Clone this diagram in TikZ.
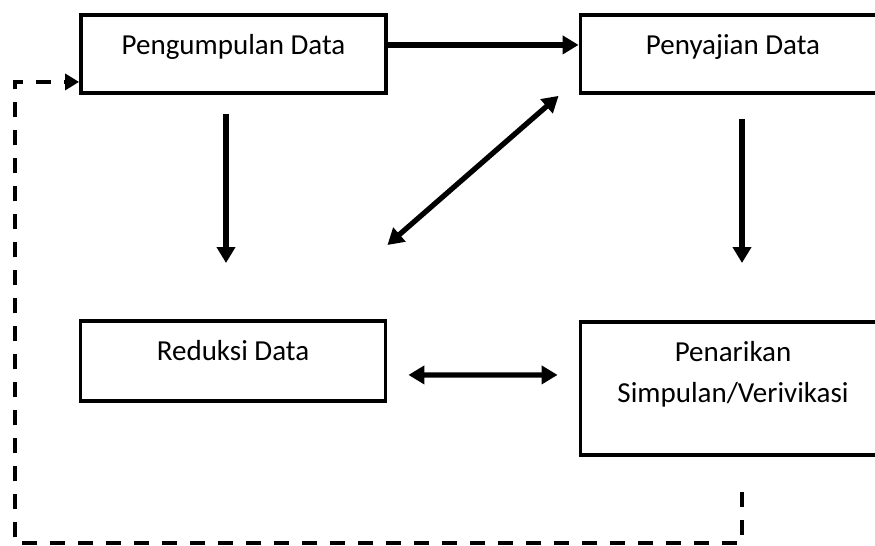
\documentclass[tikz,border=0pt]{standalone}
\usepackage{fontspec}
\setmainfont{Carlito}
\usetikzlibrary{arrows.meta}
\begin{document}
\begin{tikzpicture}[font=\fontsize{16.5}{23.3}\selectfont,
	stepbox/.style={draw,line width=2.2pt,anchor=north,minimum width=6.1cm,inner ysep=0pt,text height=0.8cm,align=center},
	flow/.style={line width=3pt,-{Triangle[length=0.32cm,width=0.36cm]}},
	both/.style={line width=3pt,{Triangle[length=0.32cm,width=0.36cm]}-{Triangle[length=0.32cm,width=0.36cm]}},
	back/.style={line width=2.2pt,dash pattern=on 0.3cm off 0.26cm,-{Triangle[length=0.28cm,width=0.32cm]}}]
	\useasboundingbox (0,0) rectangle (17.5,10.9);

	%boxes
	\node[stepbox,text depth=0.76cm] (kumpul) at (4.67,10.64) {Pengumpulan Data};
	\node[stepbox,text depth=0.76cm] (saji) at (14.66,10.64) {Penyajian Data};
	\node[stepbox,text depth=0.8cm] (reduksi) at (4.66,4.52) {Reduksi Data};
	\node[stepbox,text height=1.62cm,text depth=1.04cm] (simpul) at (14.66,4.5) {Penarikan\\Simpulan/Verivikasi};

	%arrows
	\draw[flow] ([yshift=0.18cm]kumpul.east) -- ([yshift=0.18cm]saji.west);
	\draw[flow] ([shift={(-0.15,-0.38)}]kumpul.south) -- ([shift={(-0.14,1.12)}]reduksi.north);
	\draw[flow] ([shift={(0.18,-0.48)}]saji.south) -- ([shift={(0.18,1.14)}]simpul.north);
	\draw[both] ([yshift=1.48cm]reduksi.north east) -- ([shift={(-0.4,-0.02)}]saji.south west);
	\draw[both] ([shift={(0.42,-0.28)}]reduksi.east) -- ([shift={(-0.42,0.27)}]simpul.west);

	%feedback loop
	\coordinate (ujung) at ([shift={(0.18,-0.7)}]simpul.south);
	\coordinate (sudut) at (0.3,0.04);
	\draw[back] (ujung) -- (ujung |- sudut) -- (sudut) |- ([yshift=-0.56cm]kumpul.west);
\end{tikzpicture}
\end{document}
